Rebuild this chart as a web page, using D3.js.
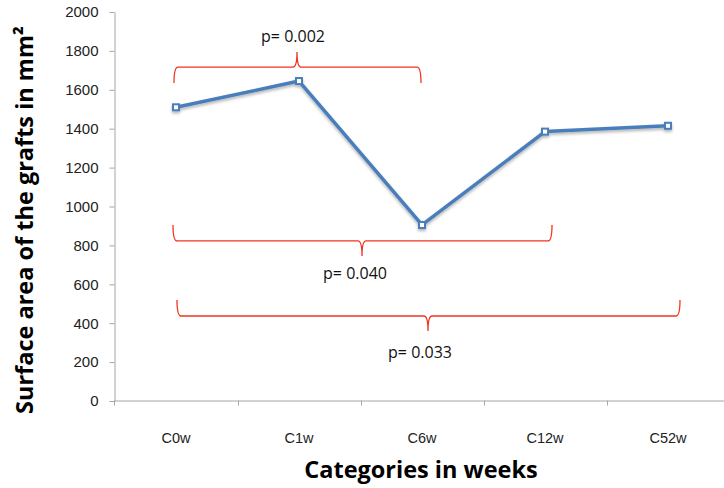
<!DOCTYPE html>
<html><head><meta charset="utf-8">
<script src="https://cdn.jsdelivr.net/npm/d3@7"></script>
<style>
html,body{margin:0;padding:0;background:#fff;}
svg{display:block;font-family:"Open Sans","Noto Sans",sans-serif;}
</style></head>
<body><svg id="chart" width="724" height="488"></svg>
<script>
const categories = ["C0w","C1w","C6w","C12w","C52w"];
const values = [1510, 1645, 905, 1385, 1415];
const yTicks = [0,200,400,600,800,1000,1200,1400,1600,1800,2000];
const pLabels = ["p= 0.002","p= 0.040","p= 0.033"];

const svg = d3.select("#chart");
const x = d3.scaleBand().domain(categories).range([114.5, 729.5]);
const y = d3.scaleLinear().domain([0,2000]).range([401, 12]);
const cx = c => x(c) + x.bandwidth()/2;

const axisColor = "#a6a6a6";
// y axis
const ya = svg.append("g").attr("transform","translate(114.5,0)")
  .call(d3.axisLeft(y).tickValues(yTicks).tickFormat(d3.format("d")).tickSize(5).tickSizeOuter(0).tickPadding(11));
ya.select(".domain").attr("stroke",axisColor);
ya.selectAll(".tick line").attr("stroke",axisColor);
ya.selectAll(".tick text").attr("fill","#222").attr("font-size","15px");

// x axis
const xa = svg.append("g").attr("transform","translate(0,400.5)")
  .call(d3.axisBottom(x).tickSize(0).tickPadding(32));
xa.select(".domain").attr("stroke",axisColor);
xa.selectAll(".tick text").attr("fill","#222").attr("font-size","14.5px");
// boundary ticks
xa.selectAll(".bt").data(categories.slice(1).concat(["end"])).enter().append("line")
  .attr("class","bt")
  .attr("x1",(d,i)=>Math.round(114.5 + x.bandwidth()*(i+1))+0.5)
  .attr("x2",(d,i)=>Math.round(114.5 + x.bandwidth()*(i+1))+0.5)
  .attr("y1",0).attr("y2",5).attr("stroke",axisColor);
xa.append("line").attr("x1",114.5).attr("x2",114.5).attr("y1",0).attr("y2",5).attr("stroke",axisColor);

// titles
svg.append("text").attr("x",421).attr("y",478).attr("text-anchor","middle")
  .attr("font-size","23.5px").attr("font-weight","bold").attr("fill","#000")
  .text("Categories in weeks");
svg.append("text").attr("transform","translate(33,220) rotate(-90)").attr("text-anchor","middle")
  .attr("font-size","23.5px").attr("font-weight","bold").attr("fill","#000")
  .text("Surface area of the grafts in mm²");

// line with shadow
const defs = svg.append("defs");
const f = defs.append("filter").attr("id","sh").attr("x","-10%").attr("y","-10%").attr("width","120%").attr("height","130%");
f.append("feDropShadow").attr("dx",0).attr("dy",2).attr("stdDeviation",1.5).attr("flood-color","#000").attr("flood-opacity",0.3);

const pts = categories.map((c,i)=>[cx(c), y(values[i])]);
const g = svg.append("g").attr("filter","url(#sh)");
g.append("path").attr("d", d3.line()(pts)).attr("fill","none")
  .attr("stroke","#4a7ebb").attr("stroke-width",3.5).attr("stroke-linejoin","round");
g.selectAll("rect").data(pts).enter().append("rect")
  .attr("x",d=>d[0]-3).attr("y",d=>d[1]-3).attr("width",6).attr("height",6)
  .attr("fill","#fff").attr("stroke","#4a7ebb").attr("stroke-width",2);

// braces
const braces = [
  {x0:174, x1:421, level:1717, tip:297, dir:-1, label:0, lx:293, ly:42},
  {x0:173, x1:552, level:823, tip:362, dir:1, label:1, lx:355, ly:279},
  {x0:177, x1:680, level:437, tip:428, dir:1, label:2, lx:420, ly:358}
];
const red = "#f2331e";
braces.forEach(b=>{
  const hy = y(b.level);
  const e = 16*b.dir;
  const t = 15*b.dir;
  const r = 4;
  const p = d3.path();
  p.moveTo(b.x0, hy - e);
  p.quadraticCurveTo(b.x0, hy, b.x0 + r, hy);
  p.lineTo(b.tip - r, hy);
  p.quadraticCurveTo(b.tip, hy, b.tip, hy + t);
  p.quadraticCurveTo(b.tip, hy, b.tip + r, hy);
  p.lineTo(b.x1 - r, hy);
  p.quadraticCurveTo(b.x1, hy, b.x1, hy - e);
  svg.append("path").attr("d", p.toString()).attr("fill","none")
    .attr("stroke",red).attr("stroke-width",1.3);
  svg.append("text").attr("x",b.lx).attr("y",b.ly).attr("text-anchor","middle")
    .attr("font-size","16px").attr("fill","#111").text(pLabels[b.label]);
});
</script></body></html>
